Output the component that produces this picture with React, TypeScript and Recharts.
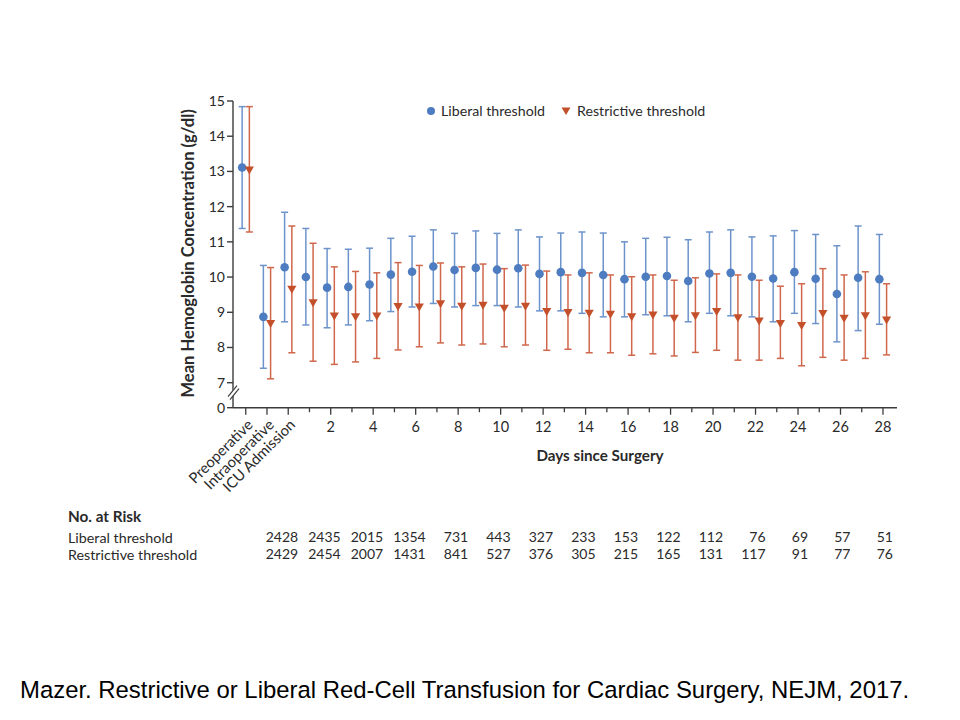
import React from 'react';
import { ScatterChart, Scatter, XAxis, YAxis, ErrorBar } from 'recharts';

// x positions: 0 = Preoperative, 1 = Intraoperative, 2 = ICU admission (day 0), then day d at d + 2
const categories = [
  'Preoperative', 'Intraoperative', 'ICU Admission',
  '1', '2', '3', '4', '5', '6', '7', '8', '9', '10', '11', '12', '13', '14',
  '15', '16', '17', '18', '19', '20', '21', '22', '23', '24', '25', '26', '27', '28',
];

const liberalMean = [13.11, 8.87, 10.28, 10.0, 9.7, 9.72, 9.79, 10.07, 10.15, 10.3, 10.2, 10.26, 10.21, 10.25, 10.09, 10.14, 10.12, 10.06, 9.94, 10.01, 10.03, 9.89, 10.1, 10.12, 10.01, 9.96, 10.14, 9.95, 9.52, 9.98, 9.94];
const liberalUpper = [14.84, 10.33, 11.84, 11.38, 10.81, 10.79, 10.82, 11.1, 11.16, 11.34, 11.24, 11.31, 11.24, 11.34, 11.14, 11.25, 11.28, 11.25, 11.0, 11.1, 11.13, 11.06, 11.28, 11.34, 11.14, 11.17, 11.32, 11.21, 10.89, 11.45, 11.21];
const liberalLower = [11.38, 7.41, 8.73, 8.64, 8.56, 8.64, 8.76, 9.02, 9.15, 9.25, 9.15, 9.19, 9.19, 9.15, 9.04, 9.04, 8.97, 8.87, 8.87, 8.93, 8.9, 8.73, 8.97, 8.9, 8.87, 8.73, 8.97, 8.68, 8.16, 8.48, 8.66];

const restrictiveMean = [13.04, 8.68, 9.65, 9.27, 8.89, 8.87, 8.89, 9.16, 9.15, 9.24, 9.17, 9.2, 9.11, 9.17, 9.02, 8.99, 8.97, 8.94, 8.87, 8.92, 8.83, 8.9, 9.02, 8.84, 8.75, 8.68, 8.62, 8.96, 8.83, 8.9, 8.78];
const restrictiveUpper = [14.84, 10.27, 11.45, 10.96, 10.29, 10.16, 10.12, 10.41, 10.33, 10.4, 10.29, 10.37, 10.24, 10.34, 10.17, 10.06, 10.12, 10.06, 10.01, 10.06, 9.91, 9.98, 10.09, 10.06, 9.91, 9.74, 9.81, 10.24, 10.06, 10.15, 9.81];
const restrictiveLower = [11.28, 7.11, 7.85, 7.61, 7.52, 7.59, 7.69, 7.93, 8.02, 8.13, 8.07, 8.1, 8.02, 8.07, 7.92, 7.95, 7.85, 7.85, 7.78, 7.82, 7.76, 7.86, 7.92, 7.64, 7.64, 7.69, 7.48, 7.72, 7.64, 7.69, 7.79];

// number at risk on days 0, 2, 4 ... 28
const riskLiberal = [2428, 2435, 2015, 1354, 731, 443, 327, 233, 153, 122, 112, 76, 69, 57, 51];
const riskRestrictive = [2429, 2454, 2007, 1431, 841, 527, 376, 305, 215, 165, 131, 117, 91, 77, 76];

const yTicks = [6.29, 7, 8, 9, 10, 11, 12, 13, 14, 15];

const FONT = 'Lato, "Open Sans", sans-serif';
const TEXT = '#2a2a2a';
const AXIS = '#3c3c3c';
const BLUE = '#4d7dc0';
const BLUE_BAR = '#6d93cb';
const RED = '#c4502b';
const RED_BAR = '#d0674c';
const SHIFT = 0.17;

const liberalData = liberalMean.map((m, i) => ({
  x: i - SHIFT,
  y: m,
  err: [m - liberalLower[i], liberalUpper[i] - m],
}));
const restrictiveData = restrictiveMean.map((m, i) => ({
  x: i + SHIFT,
  y: m,
  err: [m - restrictiveLower[i], restrictiveUpper[i] - m],
}));

const Dot = (p: any) => <circle cx={p.cx} cy={p.cy} r={4.3} fill={BLUE} />;
const Tri = (p: any) => (
  <polygon
    points={`${p.cx - 4.6},${p.cy - 3.6} ${p.cx + 4.6},${p.cy - 3.6} ${p.cx},${p.cy + 4.4}`}
    fill={RED}
  />
);

const XTick = (props: any) => {
  const { x, y, payload } = props;
  const idx = payload.value as number;
  const day = idx - 2;
  const major = idx < 2 || day % 2 === 0;
  return (
    <g>
      <line x1={x} x2={x} y1={y} y2={y + (major ? 7 : 4.5)} stroke={AXIS} strokeWidth={1.3} />
      {idx <= 2 && (
        <text
          x={x + 8}
          y={y + 18}
          transform={`rotate(-45, ${x + 8}, ${y + 18})`}
          textAnchor="end"
          fontSize={14.8}
          fontFamily={FONT}
          fill={TEXT}
        >
          {categories[idx]}
        </text>
      )}
      {day > 0 && day % 2 === 0 && (
        <text x={x} y={y + 24.5} textAnchor="middle" fontSize={14.5} fontFamily={FONT} fill={TEXT}>
          {categories[idx]}
        </text>
      )}
      {day >= 0 && day % 2 === 0 && (
        <g fontSize={14} fontFamily={FONT} fill={TEXT} textAnchor="end">
          <text x={x + 10} y={y + 134.5}>{riskLiberal[day / 2]}</text>
          <text x={x + 10} y={y + 151.5}>{riskRestrictive[day / 2]}</text>
        </g>
      )}
    </g>
  );
};

const YTick = (props: any) => {
  const { x, y, payload } = props;
  const v = payload.value as number;
  const ax = x + 8;
  return (
    <g>
      <text x={x} y={y} dy="0.35em" textAnchor="end" fontSize={14} fontFamily={FONT} fill={TEXT}>
        {v < 7 ? '0' : v}
      </text>
      {v < 7 && (
        <g stroke={AXIS} strokeWidth={1.2}>
          <line x1={ax - 4} y1={y - 10} x2={ax + 5} y2={y - 21} stroke="#fff" strokeWidth={4} />
          <line x1={ax - 5} y1={y - 11} x2={ax + 4} y2={y - 22} />
          <line x1={ax - 3} y1={y - 8} x2={ax + 6} y2={y - 19} />
        </g>
      )}
    </g>
  );
};

const yLabel = (p: any) => {
  const vb = p.viewBox;
  const cx = vb.x + 15;
  const cy = vb.y + vb.height / 2 - 1;
  return (
    <text
      x={cx}
      y={cy}
      transform={`rotate(-90, ${cx}, ${cy})`}
      textAnchor="middle"
      dominantBaseline="central"
      fontSize={16.6}
      fontWeight="bold"
      fontFamily={FONT}
      fill={TEXT}
    >
      Mean Hemoglobin Concentration (g/dl)
    </text>
  );
};

const xLabel = (p: any) => {
  const vb = p.viewBox;
  return (
    <text
      x={vb.x + 367}
      y={vb.y + 47.5}
      textAnchor="middle"
      dominantBaseline="central"
      fontSize={15.2}
      fontWeight="bold"
      fontFamily={FONT}
      fill={TEXT}
    >
      Days since Surgery
    </text>
  );
};

const rowLabel = (top: number, bold = false): React.CSSProperties => ({
  position: 'absolute',
  left: 68,
  top,
  fontFamily: FONT,
  fontSize: bold ? 15.3 : 14.3,
  fontWeight: bold ? 'bold' : 'normal',
  color: TEXT,
  lineHeight: '17px',
  whiteSpace: 'nowrap',
});

export default function App() {
  return (
    <div style={{ position: 'absolute', left: 0, top: 0, width: 960, height: 720, background: '#fff' }}>
      <ScatterChart width={960} height={620} margin={{ top: 101, right: 63, bottom: 182.3, left: 173 }}>
        <XAxis
          type="number"
          dataKey="x"
          domain={[-0.6, 30.66]}
          ticks={categories.map((_, i) => i)}
          interval={0}
          tickSize={0}
          tickMargin={0}
          tickLine={false}
          tick={<XTick />}
          height={30}
          stroke={AXIS}
          strokeWidth={1.4}
          label={xLabel}
        />
        <YAxis
          type="number"
          dataKey="y"
          domain={[6.29, 15]}
          ticks={yTicks}
          interval={0}
          allowDataOverflow
          tickSize={6}
          tickMargin={2}
          tick={<YTick />}
          width={60}
          stroke={AXIS}
          strokeWidth={1.4}
          label={yLabel}
        />
        <Scatter data={liberalData} shape={Dot} isAnimationActive={false}>
          <ErrorBar dataKey="err" direction="y" width={3.5} stroke={BLUE_BAR} strokeWidth={1.5} isAnimationActive={false} />
        </Scatter>
        <Scatter data={restrictiveData} shape={Tri} isAnimationActive={false}>
          <ErrorBar dataKey="err" direction="y" width={3.5} stroke={RED_BAR} strokeWidth={1.5} isAnimationActive={false} />
        </Scatter>
      </ScatterChart>

      <div style={{ position: 'absolute', left: 425, top: 102, fontFamily: FONT, fontSize: 14.2, color: TEXT, lineHeight: '18px', whiteSpace: 'nowrap', display: 'flex', alignItems: 'center' }}>
        <svg width={12} height={12} style={{ marginRight: 4 }}>
          <circle cx={6} cy={6} r={4} fill={BLUE} />
        </svg>
        <span>Liberal threshold</span>
        <svg width={12} height={12} style={{ marginLeft: 15, marginRight: 5 }}>
          <polygon points="1.5,2.5 10.5,2.5 6,10" fill={RED} />
        </svg>
        <span>Restrictive threshold</span>
      </div>

      <div style={rowLabel(507.5, true)}>No. at Risk</div>
      <div style={rowLabel(528.5)}>Liberal threshold</div>
      <div style={rowLabel(545.5)}>Restrictive threshold</div>

      <div
        style={{
          position: 'absolute',
          left: 20,
          top: 676,
          fontFamily: '"Liberation Sans", Arial, sans-serif',
          fontSize: 23.9,
          lineHeight: '28px',
          color: '#000',
          whiteSpace: 'nowrap',
        }}
      >
        Mazer. Restrictive or Liberal Red-Cell Transfusion for Cardiac Surgery, NEJM, 2017.
      </div>
    </div>
  );
}
